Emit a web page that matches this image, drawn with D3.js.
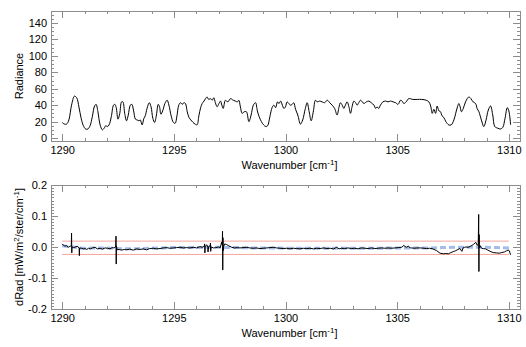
<!DOCTYPE html>
<html><head><meta charset="utf-8">
<script src="https://cdn.jsdelivr.net/npm/d3@7"></script>
<style>
body{margin:0;background:#fff;}
text{font-family:"Liberation Sans",Arial,Helvetica,sans-serif;font-size:11px;fill:#000;}
</style></head>
<body><svg id="c" width="526" height="347"></svg>
<script>
// ---- data ----
const xTicks = [1290, 1295, 1300, 1305, 1310];
const radTicks = [0, 20, 40, 60, 80, 100, 120, 140];
const dradTicks = [-0.2, -0.1, 0.0, 0.1, 0.2];
const dradTickLabels = ["-0.2", "-0.1", "0.0", "0.1", "0.2"];
const limitLevels = [0.019, -0.024];

// [wavenumber, radiance]
const radiance = [
[1290.00,19],[1290.10,17],[1290.20,17],[1290.30,22],[1290.42,40],[1290.55,51],[1290.65,49],[1290.75,38],[1290.85,24],[1290.95,15],
[1291.05,11],[1291.15,11],[1291.25,15],[1291.35,26],[1291.45,39],[1291.52,41],[1291.60,32],[1291.70,16],[1291.80,10],[1291.88,12],
[1291.95,15],[1292.02,14],[1292.10,16],[1292.20,26],[1292.30,40],[1292.36,41],[1292.42,37],[1292.50,23],[1292.58,30],[1292.66,44],
[1292.72,44],[1292.80,30],[1292.88,21],[1292.96,28],[1293.05,40],[1293.12,41],[1293.20,33],[1293.28,23],[1293.36,22],[1293.44,21],
[1293.50,22],[1293.58,16],[1293.66,24],[1293.72,27],[1293.80,36],[1293.90,43],[1293.98,38],[1294.06,24],[1294.14,19],[1294.22,28],
[1294.30,41],[1294.36,38],[1294.42,29],[1294.50,33],[1294.60,42],[1294.70,46],[1294.78,40],[1294.88,27],[1294.98,19],[1295.06,18],
[1295.14,27],[1295.22,40],[1295.30,43],[1295.38,41],[1295.45,43],[1295.52,42],[1295.60,32],[1295.68,25],[1295.76,22],[1295.86,19],
[1295.95,17],[1296.04,16],[1296.12,27],[1296.20,37],[1296.27,42],[1296.35,45],[1296.42,48],[1296.49,50],[1296.56,47],[1296.64,48],
[1296.72,46],[1296.79,49],[1296.86,43],[1296.94,38],[1297.02,42],[1297.09,45],[1297.15,40],[1297.21,36],[1297.31,46],[1297.42,44],
[1297.54,48],[1297.66,46],[1297.76,45],[1297.84,44],[1297.91,46],[1297.98,38],[1298.06,30],[1298.15,32],[1298.25,32],[1298.36,20],
[1298.46,28],[1298.56,40],[1298.66,43],[1298.74,33],[1298.82,26],[1298.92,20],[1299.02,16],[1299.12,14],[1299.20,15],[1299.30,26],
[1299.40,37],[1299.48,40],[1299.56,37],[1299.64,44],[1299.71,42],[1299.78,45],[1299.86,40],[1299.93,36],[1300.00,38],[1300.07,44],
[1300.15,42],[1300.22,40],[1300.30,41],[1300.37,43],[1300.45,35],[1300.55,28],[1300.67,17],[1300.77,22],[1300.88,35],[1300.97,43],
[1301.06,32],[1301.15,21],[1301.25,33],[1301.34,46],[1301.42,44],[1301.52,45],[1301.64,44],[1301.75,43],[1301.87,46],[1301.98,43],
[1302.09,40],[1302.20,36],[1302.31,28],[1302.39,37],[1302.46,43],[1302.54,40],[1302.61,36],[1302.68,40],[1302.76,44],[1302.84,38],
[1302.91,30],[1302.98,38],[1303.06,45],[1303.14,43],[1303.21,40],[1303.28,43],[1303.36,46],[1303.44,44],[1303.51,42],[1303.62,44],
[1303.73,45],[1303.84,43],[1303.96,40],[1304.04,36],[1304.10,38],[1304.17,36],[1304.25,40],[1304.36,44],[1304.48,45],[1304.59,44],
[1304.70,45],[1304.82,44],[1304.93,43],[1305.04,41],[1305.15,46],[1305.22,45],[1305.30,42],[1305.40,44],[1305.52,48],[1305.70,47],
[1305.90,47],[1306.10,47],[1306.30,46],[1306.42,44],[1306.50,39],[1306.57,30],[1306.64,35],[1306.72,30],[1306.79,39],[1306.87,33],
[1306.94,32],[1307.01,27],[1307.09,25],[1307.18,20],[1307.31,16],[1307.42,16],[1307.54,22],[1307.62,30],[1307.70,38],[1307.76,42],
[1307.82,38],[1307.88,32],[1307.96,36],[1308.06,44],[1308.14,48],[1308.21,50],[1308.30,48],[1308.40,44],[1308.51,42],[1308.58,36],
[1308.66,32],[1308.77,22],[1308.88,14],[1308.98,22],[1309.08,34],[1309.18,39],[1309.28,28],[1309.37,14],[1309.50,12],[1309.63,11],
[1309.73,13],[1309.83,24],[1309.93,37],[1310.00,33],[1310.08,16]];

// [wavenumber, radiance difference]
const dRad = [
[1290.00,0.010],[1290.05,0.006],[1290.12,0.003],[1290.20,0.004],[1290.27,-0.001],[1290.35,0.002],[1290.41,0.004],[1290.42,0.045],[1290.43,-0.019],[1290.44,0.000],
[1290.52,-0.002],[1290.62,0.001],[1290.70,0.002],[1290.76,-0.004],[1290.77,-0.028],[1290.78,-0.003],[1290.86,-0.004],[1290.95,-0.006],[1291.03,-0.005],[1291.10,-0.008],
[1291.18,-0.004],[1291.26,-0.006],[1291.35,-0.003],[1291.47,-0.001],[1291.58,-0.006],[1291.70,-0.004],[1291.80,-0.007],[1291.92,-0.003],[1292.03,-0.004],[1292.14,-0.006],
[1292.24,-0.002],[1292.32,-0.003],[1292.38,-0.001],[1292.40,0.006],[1292.41,0.035],[1292.42,-0.055],[1292.43,0.004],[1292.46,-0.009],[1292.55,-0.008],[1292.66,-0.010],
[1292.78,-0.008],[1292.90,-0.009],[1293.02,-0.007],[1293.19,-0.010],[1293.32,-0.006],[1293.48,-0.008],[1293.62,-0.006],[1293.78,-0.009],[1293.92,-0.005],[1294.08,-0.004],
[1294.22,-0.006],[1294.38,-0.005],[1294.52,-0.003],[1294.68,-0.002],[1294.82,-0.004],[1294.98,-0.003],[1295.12,-0.002],[1295.27,-0.001],[1295.42,-0.003],[1295.57,-0.002],
[1295.72,-0.003],[1295.87,-0.001],[1296.02,-0.003],[1296.17,0.001],[1296.28,-0.001],[1296.36,0.002],[1296.38,0.010],[1296.39,-0.019],[1296.41,0.003],[1296.48,0.007],
[1296.52,-0.001],[1296.53,-0.016],[1296.56,0.002],[1296.63,0.004],[1296.64,0.013],[1296.65,-0.014],[1296.67,0.000],[1296.78,-0.003],[1296.88,-0.002],[1296.99,0.000],
[1297.08,-0.002],[1297.14,0.016],[1297.17,0.006],[1297.18,0.051],[1297.19,-0.074],[1297.20,0.030],[1297.21,-0.012],[1297.23,0.002],[1297.28,0.010],[1297.36,0.008],
[1297.46,0.004],[1297.59,-0.001],[1297.72,-0.003],[1297.85,-0.002],[1297.96,-0.003],[1298.10,-0.002],[1298.26,-0.001],[1298.40,-0.003],[1298.56,-0.004],[1298.70,-0.003],
[1298.86,-0.005],[1299.00,-0.004],[1299.16,-0.003],[1299.30,-0.002],[1299.45,-0.001],[1299.60,-0.003],[1299.75,-0.004],[1299.90,-0.005],[1300.05,-0.004],[1300.20,-0.006],
[1300.35,-0.004],[1300.50,-0.005],[1300.65,-0.006],[1300.80,-0.004],[1300.95,-0.005],[1301.10,-0.004],[1301.25,-0.006],[1301.40,-0.004],[1301.55,-0.005],[1301.70,-0.003],
[1301.85,-0.005],[1302.00,-0.004],[1302.15,-0.006],[1302.29,-0.001],[1302.40,-0.006],[1302.52,-0.004],[1302.65,-0.005],[1302.80,-0.003],[1302.95,-0.005],[1303.10,-0.004],
[1303.25,-0.006],[1303.40,-0.003],[1303.55,-0.004],[1303.70,-0.005],[1303.85,-0.003],[1304.00,-0.005],[1304.15,-0.004],[1304.30,-0.003],[1304.45,-0.004],[1304.60,-0.003],
[1304.75,-0.004],[1304.90,-0.003],[1305.05,-0.002],[1305.20,-0.001],[1305.30,0.005],[1305.35,0.002],[1305.42,-0.001],[1305.50,0.003],[1305.58,-0.003],[1305.65,-0.003],
[1305.75,-0.004],[1305.90,-0.003],[1306.05,-0.003],[1306.20,-0.004],[1306.32,-0.005],[1306.45,-0.004],[1306.60,-0.006],[1306.77,-0.012],[1306.92,-0.020],[1307.07,-0.022],
[1307.18,-0.021],[1307.29,-0.022],[1307.40,-0.018],[1307.51,-0.015],[1307.62,-0.012],[1307.72,-0.008],[1307.81,-0.005],[1307.90,-0.014],[1307.96,-0.002],[1308.02,-0.001],
[1308.08,0.000],[1308.18,-0.001],[1308.30,0.003],[1308.41,0.008],[1308.52,0.015],[1308.59,0.005],[1308.63,0.010],[1308.65,0.105],[1308.66,-0.079],[1308.67,0.040],
[1308.68,-0.002],[1308.70,0.005],[1308.74,0.000],[1308.78,-0.004],[1308.86,-0.005],[1308.96,-0.006],[1309.06,-0.010],[1309.16,-0.014],[1309.30,-0.018],[1309.45,-0.019],
[1309.57,-0.020],[1309.68,-0.018],[1309.80,-0.016],[1309.90,-0.012],[1309.97,-0.010],[1310.02,-0.012],[1310.08,-0.025]];

// [wavenumber, smoothed difference] (light blue dashed)
const dRadRef = [
[1290.00,0.004],[1290.50,0.000],[1291.00,-0.004],[1291.50,-0.003],[1292.00,-0.003],[1292.50,-0.005],[1293.00,-0.006],[1293.50,-0.005],[1294.00,-0.004],[1294.50,-0.003],
[1295.00,-0.002],[1295.50,-0.002],[1296.00,-0.002],[1296.50,-0.001],[1297.00,-0.001],[1297.50,-0.002],[1298.00,-0.002],[1298.50,-0.003],[1299.00,-0.003],[1299.50,-0.003],
[1300.00,-0.004],[1301.00,-0.004],[1302.00,-0.004],[1303.00,-0.004],[1304.00,-0.004],[1305.00,-0.003],[1306.00,-0.003],[1306.50,-0.003],[1307.00,-0.002],[1307.50,-0.001],
[1308.00,-0.001],[1308.50,-0.001],[1309.00,-0.001],[1309.50,-0.002],[1310.08,-0.003]];

// ---- layout ----
const svg = d3.select("#c");
const L = 51, R = 520;
const top1 = 11, bot1 = 141, top2 = 185, bot2 = 309;
const axisCol = "#8c8c8c";

const x = d3.scaleLinear().domain([1289.5, 1310.5]).range([L, R]);
const y1 = d3.scaleLinear().domain([-3.6, 154.6]).range([bot1, top1]);
const y2 = d3.scaleLinear().domain([-0.2, 0.2]).range([bot2, top2]);

const xMinor = d3.range(1290, 1310.01, 1).filter(v => v % 5 !== 0);
const y1Minor = d3.range(0, 151, 5).filter(v => v % 20 !== 0);
const y2Minor = d3.range(-20, 21, 1).filter(v => v % 10 !== 0).map(v => v / 100);

function frame(y, yt, ytl, yMinor, ybot, ytop) {
  const g = svg.append("g");
  g.append("rect").attr("x", L).attr("y", ytop).attr("width", R - L).attr("height", ybot - ytop)
    .attr("fill", "none").attr("stroke", axisCol).attr("stroke-width", 1).attr("shape-rendering","crispEdges");
  const styleAx = sel => { sel.select(".domain").remove(); sel.selectAll("line").attr("stroke", axisCol).attr("shape-rendering","crispEdges"); sel.selectAll("text").attr("fill","#000").style("font-size","11px").style("font-family",'"Liberation Sans",Arial,sans-serif'); };
  g.append("g").attr("transform", `translate(0,${ybot})`)
    .call(d3.axisBottom(x).tickValues(xTicks).tickSizeInner(-7).tickSizeOuter(0).tickPadding(5).tickFormat(d3.format("d"))).call(styleAx);
  g.append("g").attr("transform", `translate(0,${ybot})`)
    .call(d3.axisBottom(x).tickValues(xMinor).tickSizeInner(-3).tickSizeOuter(0).tickFormat("")).call(styleAx);
  g.append("g").attr("transform", `translate(0,${ytop})`)
    .call(d3.axisTop(x).tickValues(xTicks).tickSizeInner(-7).tickSizeOuter(0).tickFormat("")).call(styleAx);
  g.append("g").attr("transform", `translate(0,${ytop})`)
    .call(d3.axisTop(x).tickValues(xMinor).tickSizeInner(-3).tickSizeOuter(0).tickFormat("")).call(styleAx);
  g.append("g").attr("transform", `translate(${L},0)`)
    .call(d3.axisLeft(y).tickValues(yt).tickSizeInner(-7).tickSizeOuter(0).tickPadding(4).tickFormat((d, i) => ytl[i])).call(styleAx);
  g.append("g").attr("transform", `translate(${L},0)`)
    .call(d3.axisLeft(y).tickValues(yMinor).tickSizeInner(-3).tickSizeOuter(0).tickFormat("")).call(styleAx);
  g.append("g").attr("transform", `translate(${R},0)`)
    .call(d3.axisRight(y).tickValues(yt).tickSizeInner(-7).tickSizeOuter(0).tickFormat("")).call(styleAx);
  g.append("g").attr("transform", `translate(${R},0)`)
    .call(d3.axisRight(y).tickValues(yMinor).tickSizeInner(-3).tickSizeOuter(0).tickFormat("")).call(styleAx);
  const t = svg.append("text").attr("x", (L + R) / 2 + 4).attr("y", ybot + 28).attr("text-anchor", "middle");
  t.append("tspan").text("Wavenumber [cm");
  t.append("tspan").attr("dy", -4).style("font-size", "8px").text("-1");
  t.append("tspan").attr("dy", 4).text("]");
}

frame(y1, radTicks, radTicks.map(String), y1Minor, bot1, top1);
frame(y2, dradTicks, dradTickLabels, y2Minor, bot2, top2);

svg.append("text").attr("transform", `translate(23,${(top1 + bot1) / 2}) rotate(-90)`).attr("text-anchor", "middle").text("Radiance");
const yt2 = svg.append("text").attr("transform", `translate(23,${(top2 + bot2) / 2}) rotate(-90)`).attr("text-anchor", "middle");
yt2.append("tspan").text("dRad [mW/m");
yt2.append("tspan").attr("dy", -4).style("font-size", "8px").text("2");
yt2.append("tspan").attr("dy", 4).text("/ster/cm");
yt2.append("tspan").attr("dy", -4).style("font-size", "8px").text("-1");
yt2.append("tspan").attr("dy", 4).text("]");

// top spectrum
svg.append("path").datum(radiance)
  .attr("d", d3.line().x(d => x(d[0])).y(d => y1(d[1])).curve(d3.curveCatmullRom.alpha(0.5)))
  .attr("fill", "none").attr("stroke", "#000").attr("stroke-width", 1);

// limit lines
svg.selectAll("line.lim").data(limitLevels).enter().append("line").attr("class","lim")
  .attr("x1", x(1290)).attr("x2", x(1310)).attr("y1", d => y2(d)).attr("y2", d => y2(d))
  .attr("stroke", "#f4a49c").attr("stroke-width", 1);

// light blue dashed reference
svg.append("path").datum(dRadRef)
  .attr("d", d3.line().x(d => x(d[0])).y(d => y2(d[1])).curve(d3.curveMonotoneX))
  .attr("fill", "none").attr("stroke", "#a3bcea").attr("stroke-width", 3).attr("stroke-dasharray", "6,3");

// difference curve
svg.append("path").datum(dRad)
  .attr("d", d3.line().x(d => x(d[0])).y(d => y2(d[1])))
  .attr("fill", "none").attr("stroke", "#000").attr("stroke-width", 1);
</script></body></html>
